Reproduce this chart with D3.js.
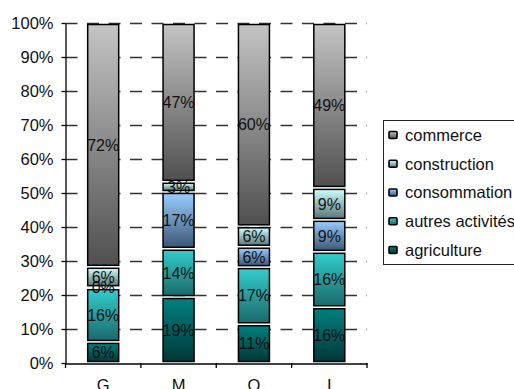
<!DOCTYPE html>
<html><head><meta charset="utf-8">
<script src="https://cdn.jsdelivr.net/npm/d3@7"></script>
<style>body{margin:0;background:#fff} text{font-family:"Liberation Sans",Arial,sans-serif}</style>
</head><body><svg id="c" width="514" height="389"></svg>
<script>
const categories = ["G", "M", "O", "I"];
const seriesNames = ["agriculture", "autres activités", "consommation", "construction", "commerce"];
const agriculture = [6.2, 19.4, 11.4, 16.4];
const autresActivites = [15.8, 14.2, 16.8, 16.3];
const consommation = [0.3, 16.7, 6.0, 9.4];
const construction = [6.0, 3.0, 6.0, 9.4];
const commerce = [71.7, 46.7, 59.8, 48.5];
const yTicks = [0, 10, 20, 30, 40, 50, 60, 70, 80, 90, 100];
const colorsTop = ["#008080", "#33cccc", "#99ccff", "#ccffff", "#c4c4c4"];
const colorsBottom = ["#003838", "#1b6a6a", "#3d5876", "#5e7676", "#505050"];

const seriesValues = [agriculture, autresActivites, consommation, construction, commerce];
const rows = categories.map((c, i) => {
  const r = {cat: c};
  seriesNames.forEach((s, j) => r[s] = seriesValues[j][i]);
  return r;
});

const svg = d3.select("#c");
const pLeft = 65.5, pRight = 367, pTop = 23, pBottom = 363;
const x = d3.scaleBand().domain(categories).range([pLeft, pRight]).padding(0);
const y = d3.scaleLinear().domain([0, 100]).range([pBottom, pTop]);
const barW = 31;

const defs = svg.append("defs");
seriesNames.forEach((s, j) => {
  const g = defs.append("linearGradient").attr("id", "g" + j)
    .attr("x1", 0).attr("y1", 0).attr("x2", 0).attr("y2", 1);
  g.append("stop").attr("offset", "0%").attr("stop-color", colorsTop[j]);
  g.append("stop").attr("offset", "100%").attr("stop-color", colorsBottom[j]);
});

// gridlines
svg.append("g").selectAll("line").data(yTicks.filter(d => d > 0)).join("line")
  .attr("x1", pLeft).attr("x2", pRight)
  .attr("y1", d => Math.round(y(d)) + 0.5).attr("y2", d => Math.round(y(d)) + 0.5)
  .attr("stroke", "#333").attr("stroke-width", 1.3).attr("stroke-dasharray", "12,9.5");

// bars
const stack = d3.stack().keys(seriesNames)(rows);
const gBars = svg.append("g");
stack.forEach((layer, j) => {
  gBars.append("g").selectAll("rect").data(layer).join("rect")
    .attr("x", d => x(d.data.cat) + x.bandwidth() / 2 - barW / 2)
    .attr("width", barW)
    .attr("y", d => y(d[1]) + 1.5)
    .attr("height", d => Math.max(0, y(d[0]) - y(d[1]) - 3))
    .attr("fill", "url(#g" + j + ")")
    .attr("stroke", "#000").attr("stroke-width", 1.5);
});
stack.forEach((layer, j) => {
  gBars.append("g").selectAll("text").data(layer).join("text")
    .attr("x", d => x(d.data.cat) + x.bandwidth() / 2)
    .attr("y", d => y((d[0] + d[1]) / 2))
    .attr("dy", "0.36em")
    .attr("text-anchor", "middle")
    .attr("font-size", 16)
    .attr("fill", "#111")
    .text(d => Math.round(d[1] - d[0]) + "%");
});

// y axis
const yAxis = svg.append("g").attr("transform", `translate(${pLeft},0)`)
  .call(d3.axisLeft(y).tickValues(yTicks).tickSize(4).tickSizeOuter(0).tickFormat(d => d + "%"));
yAxis.select(".domain").attr("stroke", "#000").attr("stroke-width", 1.3);
yAxis.selectAll(".tick line").attr("stroke", "#000").attr("stroke-width", 1.3);
yAxis.selectAll(".tick text").attr("font-size", 16.5).attr("fill", "#111").attr("x", -12)
  .attr("font-family", '"Liberation Sans",Arial,sans-serif');

// x axis
const xAxis = svg.append("g").attr("transform", `translate(0,${pBottom + 0.5})`)
  .call(d3.axisBottom(x).tickSize(0).tickSizeOuter(0));
xAxis.select(".domain").attr("stroke", "#000").attr("stroke-width", 1.3);
xAxis.selectAll(".tick text").attr("font-size", 16.5).attr("fill", "#111").attr("y", 16).attr("dy", "0.71em")
  .attr("font-family", '"Liberation Sans",Arial,sans-serif');
const bounds = [x(categories[0])].concat(categories.map(c => x(c) + x.bandwidth()));
svg.append("g").selectAll("line").data(bounds).join("line")
  .attr("x1", d => d).attr("x2", d => d)
  .attr("y1", pBottom).attr("y2", pBottom + 5)
  .attr("stroke", "#000").attr("stroke-width", 1.3);

// legend
const lg = svg.append("g");
lg.append("rect").attr("x", 383.5).attr("y", 120.5).attr("width", 140).attr("height", 144)
  .attr("fill", "#fff").attr("stroke", "#222").attr("stroke-width", 1);
const legendOrder = seriesNames.map((s, j) => ({s, j})).reverse();
const ly = d3.scalePoint().domain(legendOrder.map(d => d.s)).range([135, 250]);
const items = lg.selectAll("g.item").data(legendOrder).join("g").attr("class", "item")
  .attr("transform", d => `translate(0,${ly(d.s)})`);
items.append("rect").attr("x", 389).attr("y", -3.5).attr("width", 8).attr("height", 7).attr("rx", 1)
  .attr("fill", d => "url(#g" + d.j + ")").attr("stroke", "#000").attr("stroke-width", 1.6);
items.append("text").attr("x", 405).attr("dy", "0.36em").attr("font-size", 16.5).attr("fill", "#111")
  .text(d => d.s);
</script></body></html>
